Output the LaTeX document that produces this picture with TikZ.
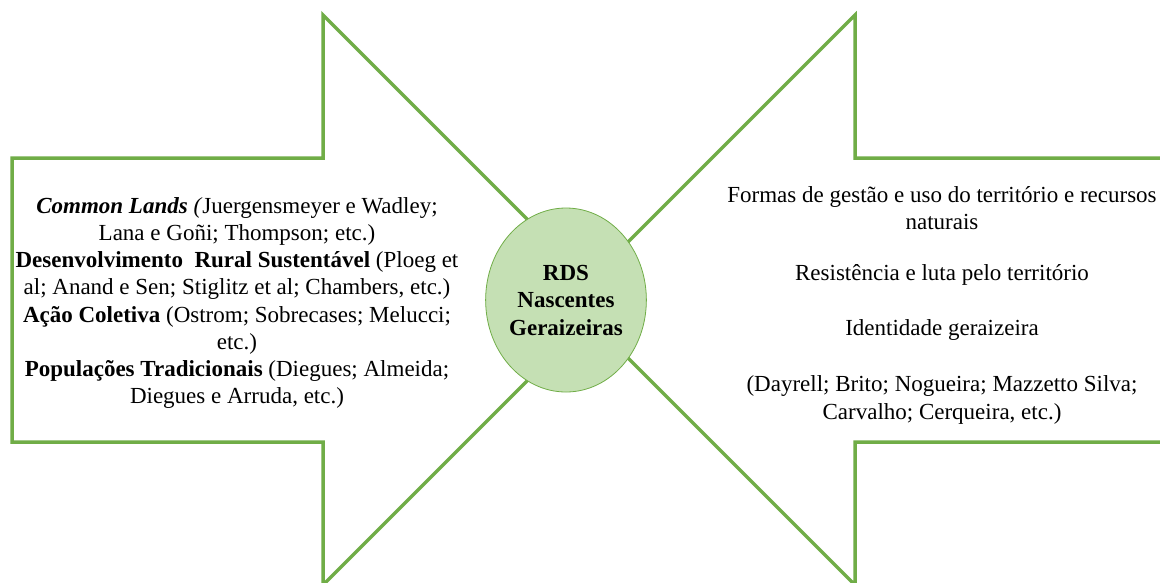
\documentclass[tikz,border=0pt]{standalone}
\usepackage{fontspec}
\setmainfont{LiberationSerif}[Extension=.ttf,UprightFont=*-Regular,BoldFont=*-Bold,ItalicFont=*-Italic,BoldItalicFont=*-BoldItalic]
\usetikzlibrary{shapes.geometric}
\definecolor{arrowgreen}{HTML}{70AD47}
\definecolor{circlefill}{HTML}{C5E0B4}
\begin{document}
\begin{tikzpicture}[x=1pt,y=-1pt,
  arrowline/.style={draw=arrowgreen,line width=3.5pt,line join=miter},
  txt/.style={align=center,inner sep=0pt,font=\rmfamily\fontsize{23}{27.1}\selectfont},
  hub/.style={ellipse,draw=arrowgreen,line width=0.8pt,fill=circlefill,minimum width=148pt,minimum height=184pt,inner sep=0pt,align=center,font=\rmfamily\fontsize{23}{27.5}\selectfont\bfseries}]
\useasboundingbox (0,0) rectangle (1160,582);
\clip (0,0) rectangle (1160,582);
\fill[white] (0,0) rectangle (1160,582);
% left arrow
\coordinate (la1) at (12,158);
\coordinate (la2) at (323,158);
\coordinate (la3) at (323,15);
\coordinate (latip) at (608,300);
\coordinate (la4) at (323,585);
\coordinate (la5) at (323,442);
\coordinate (la6) at (12,442);
\draw[arrowline] (la1) -- (la2) -- (la3) -- (latip) -- (la4) -- (la5) -- (la6) -- cycle;
% right arrow
\coordinate (ra1) at (1180,158);
\coordinate (ra2) at (855,158);
\coordinate (ra3) at (855,15);
\coordinate (ratip) at (570,300);
\coordinate (ra4) at (855,585);
\coordinate (ra5) at (855,442);
\coordinate (ra6) at (1180,442);
\draw[arrowline] (ra1) -- (ra2) -- (ra3) -- (ratip) -- (ra4) -- (ra5) -- (ra6);
% hub
\node[hub] (hub) at (566,300) {RDS\\Nascentes\\Geraizeiras};
% left text
\node[txt] (lefttext) at (237,303) {\textbf{\textit{Common Lands}} \textit{(}Juergensmeyer e Wadley;\\
Lana e Goñi; Thompson; etc.)\\
\textbf{Desenvolvimento\ \ Rural Sustentável} (Ploeg et\\
al; Anand e Sen; Stiglitz et al; Chambers, etc.)\\
\textbf{Ação Coletiva} (Ostrom; Sobrecases; Melucci;\\
etc.)\\
\textbf{Populações Tradicionais} (Diegues; Almeida;\\
Diegues e Arruda, etc.)};
% right text
\node[txt] (rformas) at (942,208) {Formas de gestão e uso do território e recursos\\naturais};
\node[txt] (rresist) at (942,274.5) {Resistência e luta pelo território};
\node[txt] (rident) at (942,329.5) {Identidade geraizeira};
\node[txt] (rrefs) at (942,400) {(Dayrell; Brito; Nogueira; Mazzetto Silva;\\Carvalho; Cerqueira, etc.)};
\end{tikzpicture}
\end{document}
